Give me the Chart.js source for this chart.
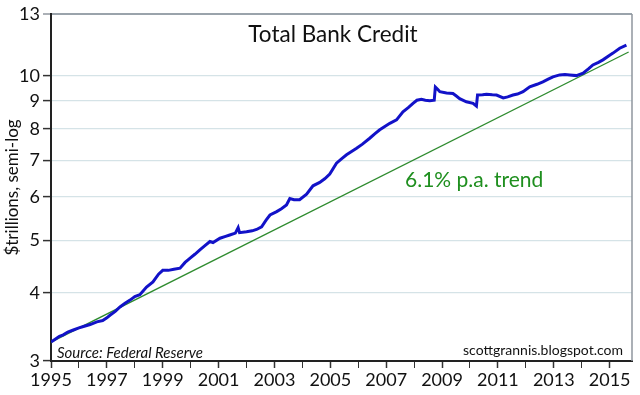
<!DOCTYPE html>
<html><head><meta charset="utf-8">
<script src="https://cdn.jsdelivr.net/npm/chart.js@4/dist/chart.umd.min.js"></script>
<style>html,body{margin:0;padding:0;background:#fff}#wrap{width:640px;height:395px}</style>
</head><body><div id="wrap"><canvas id="c" width="640" height="395"></canvas></div>
<script>
// ---- data ----
const years = [1995.00,1995.15,1995.30,1995.44,1995.60,1995.80,1996.00,1996.16,1996.40,1996.64,1996.85,1997.00,1997.11,1997.30,1997.47,1997.65,1997.83,1998.00,1998.18,1998.42,1998.65,1998.85,1999.00,1999.20,1999.40,1999.62,1999.80,1999.97,2000.15,2000.33,2000.50,2000.69,2000.80,2001.05,2001.25,2001.40,2001.60,2001.70,2001.75,2002.00,2002.20,2002.36,2002.54,2002.70,2002.84,2003.08,2003.25,2003.43,2003.55,2003.70,2003.90,2004.15,2004.38,2004.62,2004.80,2004.98,2005.22,2005.40,2005.58,2005.76,2005.94,2006.15,2006.41,2006.60,2006.77,2006.95,2007.13,2007.37,2007.60,2007.80,2007.96,2008.10,2008.26,2008.40,2008.56,2008.72,2008.76,2008.85,2008.92,2009.16,2009.39,2009.50,2009.63,2009.87,2010.11,2010.23,2010.27,2010.45,2010.59,2010.80,2010.95,2011.19,2011.35,2011.54,2011.70,2011.90,2012.14,2012.40,2012.61,2012.80,2012.97,2013.21,2013.40,2013.57,2013.81,2014.05,2014.25,2014.40,2014.60,2014.76,2015.00,2015.12,2015.36,2015.60];
const credit = [3.25,3.29,3.33,3.35,3.39,3.42,3.45,3.47,3.50,3.54,3.56,3.60,3.64,3.70,3.77,3.83,3.88,3.94,3.97,4.10,4.19,4.33,4.40,4.40,4.42,4.44,4.55,4.63,4.71,4.80,4.88,4.97,4.95,5.04,5.08,5.11,5.15,5.27,5.16,5.18,5.20,5.23,5.29,5.44,5.56,5.64,5.71,5.80,5.96,5.93,5.93,6.07,6.29,6.38,6.48,6.61,6.92,7.05,7.17,7.27,7.37,7.50,7.69,7.84,7.97,8.08,8.19,8.31,8.60,8.76,8.91,9.03,9.07,9.03,9.01,9.03,9.55,9.45,9.36,9.31,9.29,9.20,9.09,8.97,8.91,8.81,9.23,9.24,9.26,9.24,9.23,9.12,9.16,9.23,9.27,9.36,9.56,9.66,9.76,9.87,9.97,10.05,10.07,10.05,10.02,10.12,10.32,10.48,10.60,10.71,10.92,11.02,11.25,11.40];
const trendYears = [1995.0, 2015.68];
const trendValues = [3.25, 11.07];
const yTicks = [3,4,5,6,7,8,9,10,13];
const xTicks = [1995,1996,1997,1998,1999,2000,2001,2002,2003,2004,2005,2006,2007,2008,2009,2010,2011,2012,2013,2014,2015];
const xLabelled = [1995,1997,1999,2001,2003,2005,2007,2009,2011,2013,2015];
const titleText = 'Total Bank Credit';
const yTitleText = '$trillions, semi-log';
const trendText = '6.1% p.a. trend';
const sourceText = 'Source: Federal Reserve';
const siteText = 'scottgrannis.blogspot.com';

const FONT = 'Lato, "Open Sans", sans-serif';

const overlay = {
  id: 'overlay',
  beforeDatasetsDraw(chart) {
    const {ctx, chartArea: a} = chart;
    ctx.save();
    ctx.strokeStyle = '#8f969e';
    ctx.lineWidth = 1.5;
    ctx.beginPath(); ctx.moveTo(a.right, a.top); ctx.lineTo(a.right, a.bottom); ctx.stroke();
    ctx.restore();
  },
  afterDraw(chart) {
    const {ctx} = chart;
    ctx.save();
    ctx.textBaseline = 'middle';
    ctx.fillStyle = '#111';
    ctx.font = '22.5px ' + FONT;
    ctx.textAlign = 'center';
    ctx.fillText(titleText, 333, 35);
    ctx.fillStyle = '#1f8f1f';
    ctx.font = '21px ' + FONT;
    ctx.textAlign = 'left';
    ctx.fillText(trendText, 405, 180);
    ctx.fillStyle = '#111';
    ctx.font = 'italic 15px ' + FONT;
    ctx.fillText(sourceText, 57, 353);
    ctx.font = '14px ' + FONT;
    ctx.textAlign = 'right';
    ctx.fillText(siteText, 623, 350);
    ctx.restore();
  }
};

new Chart(document.getElementById('c'), {
  type: 'line',
  data: {
    datasets: [
      {
        label: 'Total Bank Credit',
        data: years.map((x, i) => ({x, y: credit[i]})),
        borderColor: '#1212c8',
        borderWidth: 3,
        pointRadius: 0,
        tension: 0,
        fill: false
      },
      {
        label: 'Trend',
        data: trendYears.map((x, i) => ({x, y: trendValues[i]})),
        borderColor: '#2e8b2e',
        borderWidth: 1.3,
        pointRadius: 0,
        fill: false
      }
    ]
  },
  options: {
    responsive: false,
    animation: false,
    devicePixelRatio: 1,
    layout: {padding: {left: 0, right: 8, top: 14, bottom: 0}},
    plugins: {legend: {display: false}, tooltip: {enabled: false}, title: {display: false}},
    scales: {
      x: {
        type: 'linear',
        min: 1995,
        max: 2015.8,
        afterBuildTicks: s => { s.ticks = xTicks.map(v => ({value: v})); },
        afterFit: s => { s.height = 34; },
        ticks: {
          autoSkip: false, maxRotation: 0, padding: 1,
          color: '#111',
          font: {family: FONT, size: 18},
          callback: v => xLabelled.includes(v) ? String(v) : ''
        },
        grid: {
          drawOnChartArea: false,
          tickLength: 7,
          tickColor: '#333',
          tickWidth: ctx => (ctx.tick && xLabelled.includes(ctx.tick.value)) ? 1.5 : 1
        },
        border: {color: '#222', width: 2}
      },
      y: {
        type: 'logarithmic',
        min: 3,
        max: 13,
        afterBuildTicks: s => { s.ticks = yTicks.map(v => ({value: v})); },
        afterFit: s => { s.width = 51; },
        ticks: {
          color: '#111', padding: 3,
          font: {family: FONT, size: 18},
          callback: v => String(v)
        },
        title: {
          display: true, text: yTitleText, color: '#111',
          font: {family: FONT, size: 17}, padding: {top: 2, bottom: 0}
        },
        grid: {
          color: ctx => ctx.tick.value === 13 ? '#9aa3ab' : (ctx.tick.value === 3 ? 'rgba(0,0,0,0)' : '#d5e3e7'),
          lineWidth: ctx => ctx.tick.value === 13 ? 2 : 1.2,
          tickColor: ctx => ctx.tick.value === 13 ? '#8f969e' : '#333',
          tickLength: 8,
          tickWidth: 1.5
        },
        border: {color: '#222', width: 2}
      }
    }
  },
  plugins: [overlay]
});
</script>
</body></html>
